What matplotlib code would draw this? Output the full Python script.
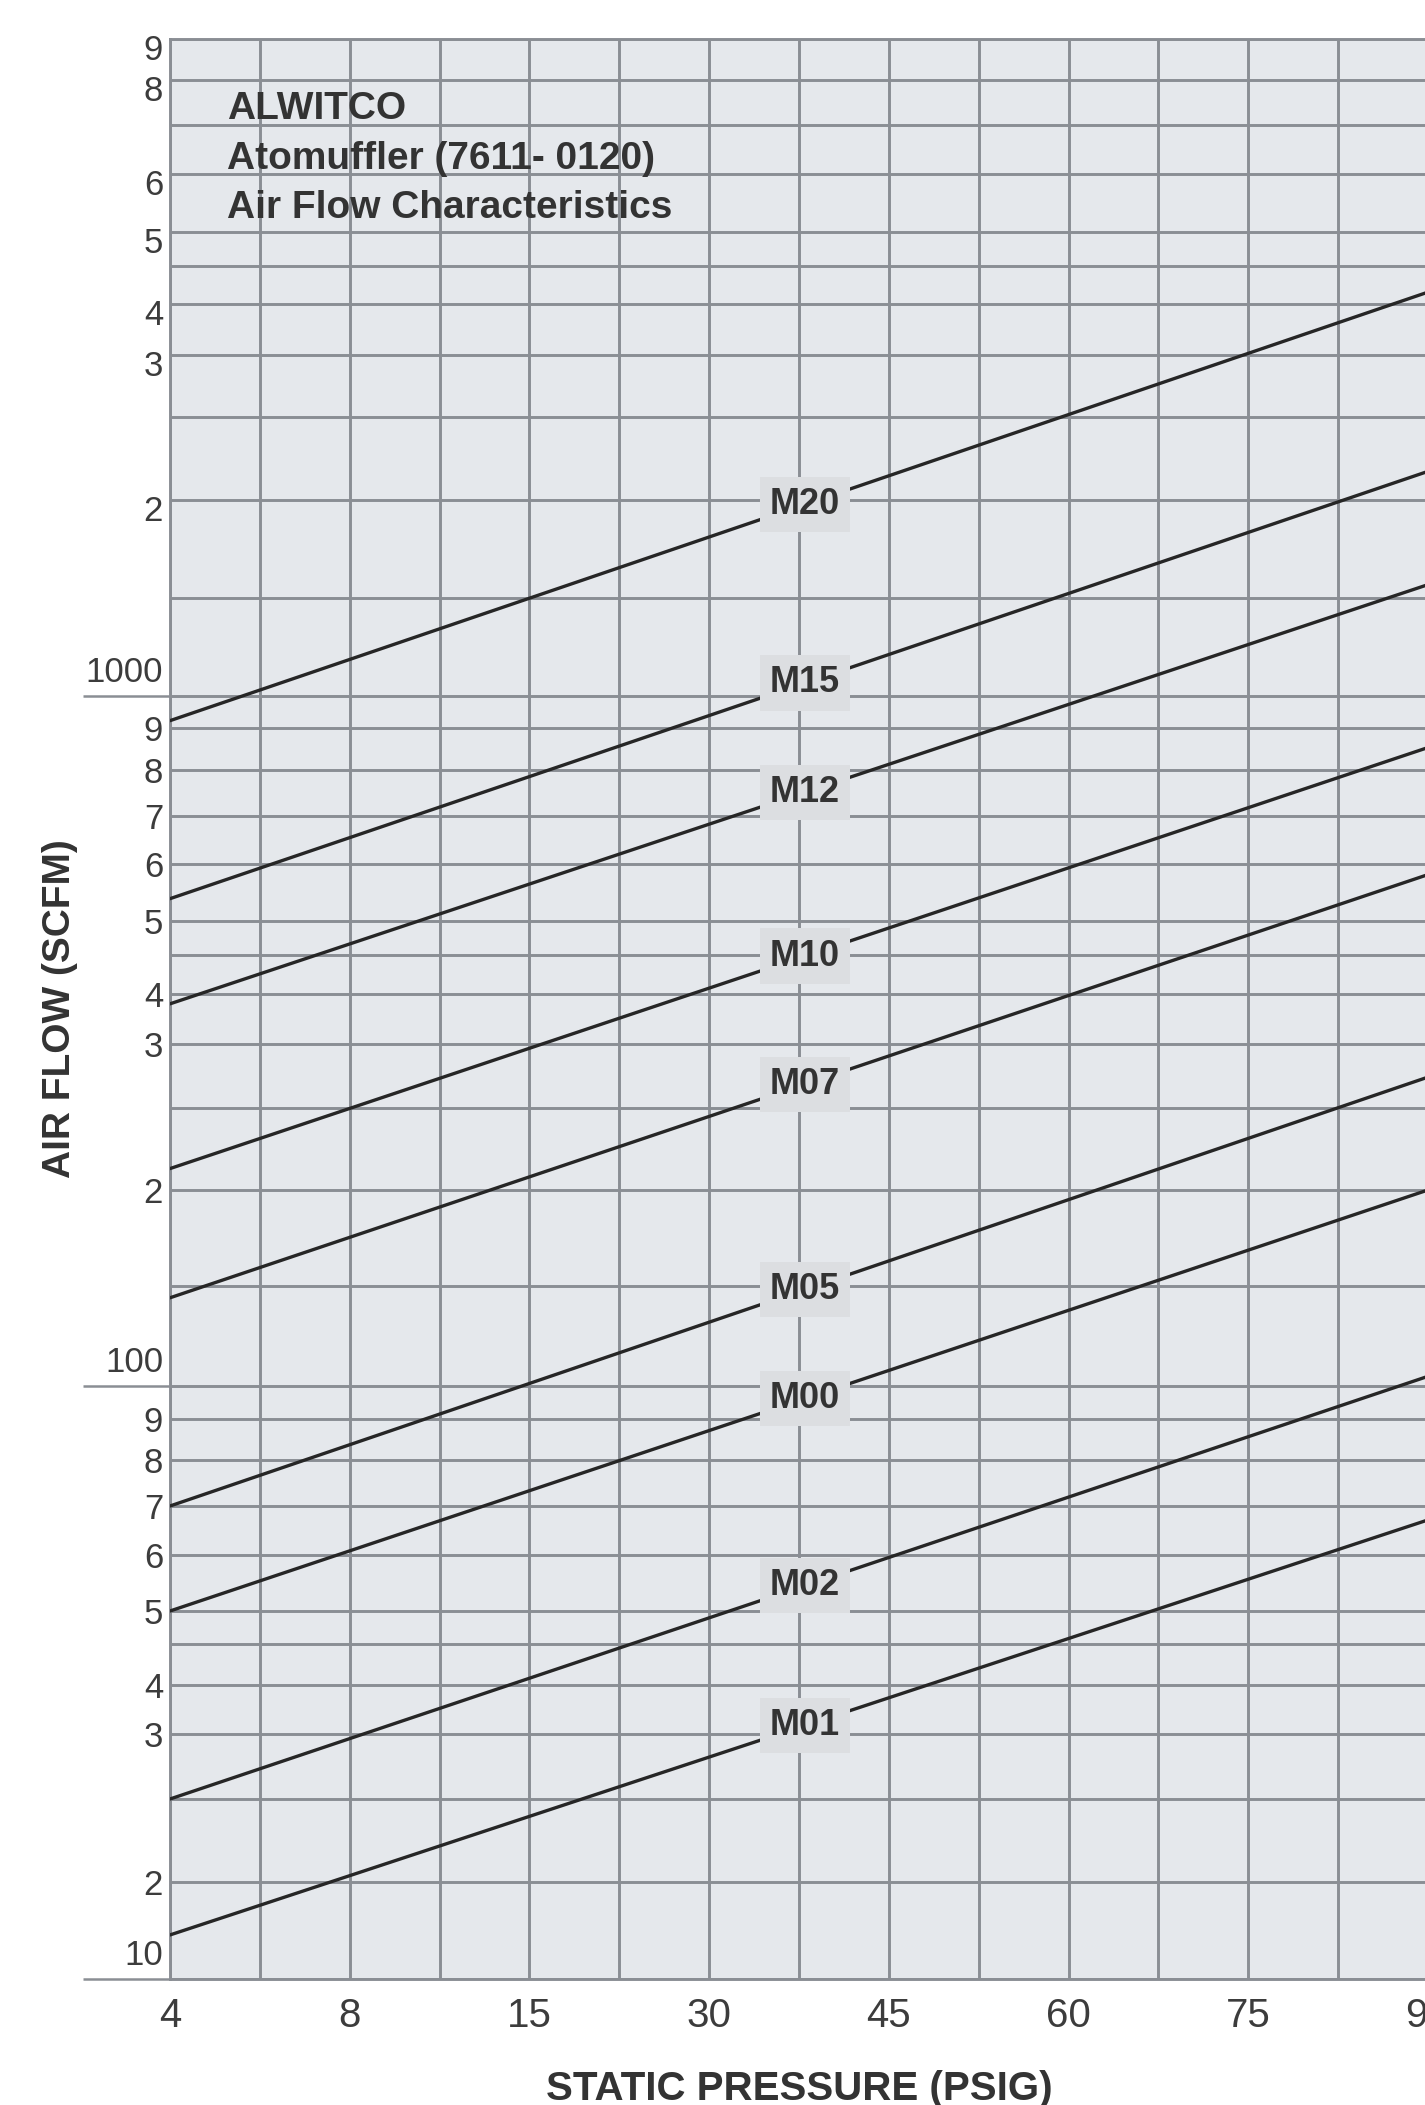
import numpy as np
import matplotlib
matplotlib.use("Agg")
import matplotlib.pyplot as plt
from matplotlib.transforms import ScaledTranslation

plt.rcParams['font.family'] = ['Liberation Sans', 'DejaVu Sans']

# static pressure ticks (printed evenly spaced on the chart)
pressure_ticks = [4, 8, 15, 30, 45, 60, 75, 90]
pressure_mid = [6, 11.5, 22.5, 37.5, 52.5, 67.5, 82.5]

# air flow grid of the printed chart paper and height of each line above the bottom
flow_grid = [10, 20, 25, 30, 40, 45, 50, 60, 70, 80, 90,
             100, 150, 200, 250, 300, 400, 450, 500, 600, 700, 800, 900,
             1000, 1500, 2000, 2500, 3000, 4000, 4500, 5000, 6000, 7000, 8000, 9000]
flow_height = [0, 97, 180, 245, 294, 335, 368, 424, 473, 519, 560,
               593, 693, 789, 871, 935, 985, 1024, 1058, 1115, 1163, 1209, 1251,
               1283, 1381, 1479, 1562, 1624, 1675, 1713, 1747, 1805, 1854, 1899, 1940]
decades = [10, 100, 1000]
minor_vals = [v for v in flow_grid if v not in decades]
minor_labels = ['2', '', '3', '4', '', '5', '6', '7', '8', '9',
                '', '2', '', '3', '4', '', '5', '6', '7', '8', '9',
                '', '2', '', '3', '4', '', '5', '6', '', '8', '9']

# atomuffler models: flow (SCFM) at 4 psig and at 90 psig
models = ["M20", "M15", "M12", "M10", "M07", "M05", "M00", "M02", "M01"]
flow_at_4 = [922, 537, 378, 212, 143, 70, 50, 25, 13.7]
flow_at_90 = [4150, 2160, 1560, 852, 580, 273, 200, 104, 67]
label_psig = 38

lg = np.log10(flow_grid)


def y_fwd(v):
    v = np.maximum(np.asarray(v, dtype=float), 1e-3)
    return np.interp(np.log10(v), lg, flow_height)


def y_inv(h):
    return 10 ** np.interp(h, flow_height, lg)


def x_fwd(v):
    return np.interp(v, pressure_ticks, np.arange(len(pressure_ticks)))


def x_inv(p):
    return np.interp(p, np.arange(len(pressure_ticks)), pressure_ticks)


grid_c = '#8a8e94'
text_c = '#333333'

fig = plt.figure(figsize=(14.25, 21.05), dpi=100)
ax = fig.add_axes([170 / 1425, 126 / 2105, 1258 / 1425, 1940 / 2105])
ax.set_xscale('function', functions=(x_fwd, x_inv))
ax.set_yscale('function', functions=(y_fwd, y_inv))
ax.set_facecolor('#e5e8ec')
ax.set_axisbelow(True)

for name, a, b in zip(models, flow_at_4, flow_at_90):
    ax.plot([4, 90], [a, b], color='#262626', lw=2.4, solid_capstyle='round', zorder=3)
    t = (x_fwd(label_psig) - x_fwd(4)) / (x_fwd(90) - x_fwd(4))
    ym = y_inv(y_fwd(a) + t * (y_fwd(b) - y_fwd(a)))
    ax.text(label_psig, ym, name, ha='center', va='center', fontsize=26,
            fontweight='bold', color=text_c, zorder=4,
            bbox=dict(boxstyle='square,pad=0.28', fc='#dcdee1', ec='none'))

ax.set_xlim(4, 90)
ax.set_ylim(10, 9000)

ax.set_xticks(pressure_ticks, [str(p) for p in pressure_ticks])
ax.set_xticks(pressure_mid, minor=True)
ax.set_yticks(decades, ['', '', ''])
ax.set_yticks(minor_vals, minor_labels, minor=True)

ax.tick_params(axis='x', which='both', length=0, pad=13, labelsize=29, labelcolor='#3c3c3c')
ax.tick_params(axis='y', which='minor', length=0, pad=5, labelsize=25, labelcolor='#3c3c3c')
ax.tick_params(axis='y', which='major', length=63, width=1.8, color=grid_c)
ax.grid(which='both', color=grid_c, lw=2.1)

# the top decade digits sit a little under their lines on the original
shift = ScaledTranslation(0, -6 / 72, fig.dpi_scale_trans)
for tick in ax.yaxis.get_minor_ticks():
    if tick.get_loc() > 1000:
        tick.label1.set_transform(tick.label1.get_transform() + shift)

for v in decades:
    ax.annotate(str(v), xy=(0, v), xycoords=('axes fraction', 'data'),
                xytext=(-5, 5), textcoords='offset points', ha='right', va='bottom',
                fontsize=25, color='#3c3c3c')

for s in ax.spines.values():
    s.set_color(grid_c)
    s.set_linewidth(2.1)

ax.text(0.045, 0.964, 'ALWITCO', transform=ax.transAxes, fontsize=28,
        fontweight='bold', color=text_c, va='center')
ax.text(0.045, 0.938, 'Atomuffler (7611- 0120)', transform=ax.transAxes, fontsize=28,
        fontweight='bold', color=text_c, va='center')
ax.text(0.045, 0.913, 'Air Flow Characteristics', transform=ax.transAxes, fontsize=28,
        fontweight='bold', color=text_c, va='center')

ax.set_xlabel('STATIC PRESSURE (PSIG)', fontsize=29, fontweight='bold', color=text_c)
ax.xaxis.set_label_coords(0.5, -0.047)
ax.set_ylabel('AIR FLOW (SCFM)', fontsize=28, fontweight='bold', color=text_c)
ax.yaxis.set_label_coords(-0.073, 0.5)

fig.savefig('out.png', dpi=100, facecolor='white')
